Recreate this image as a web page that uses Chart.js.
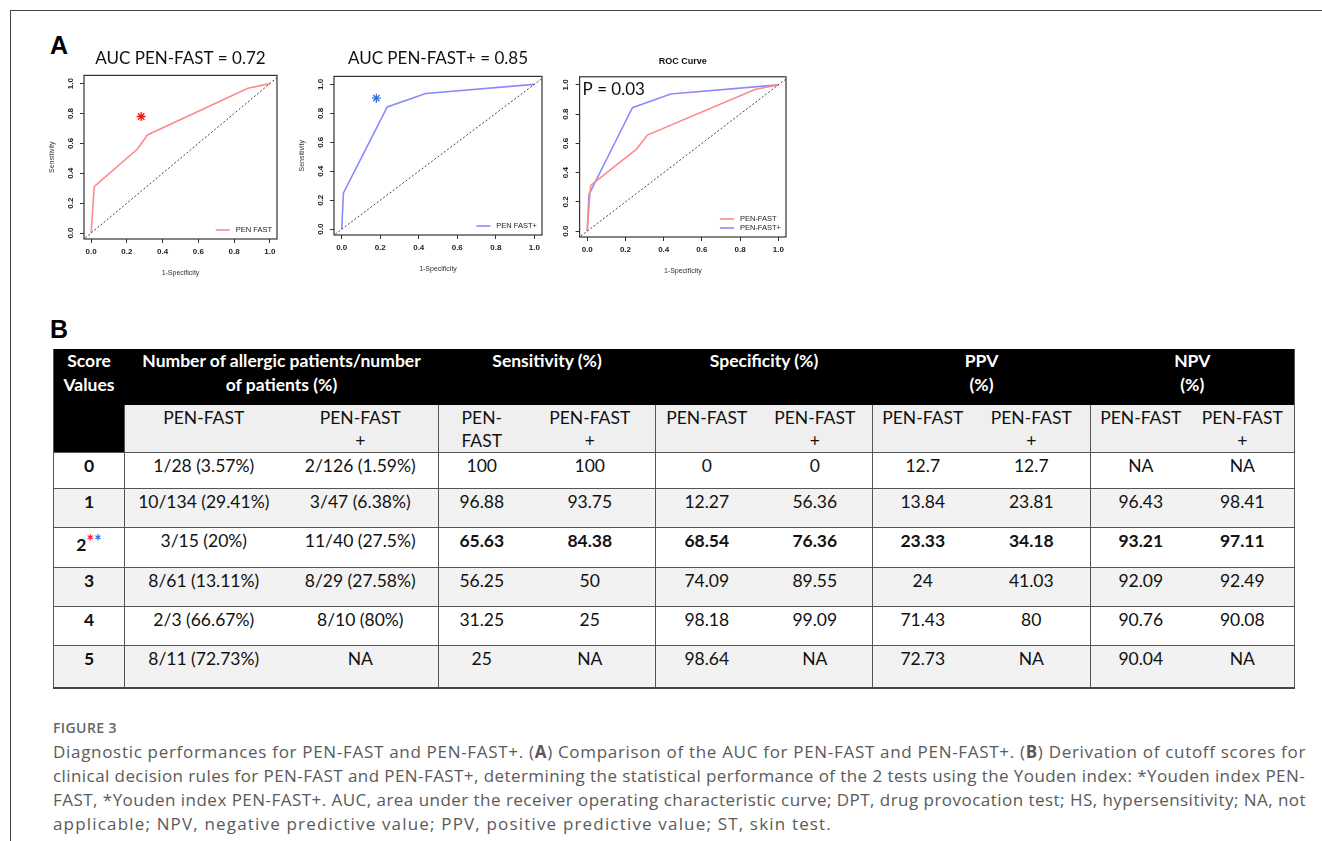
<!DOCTYPE html>
<html>
<head>
<meta charset="utf-8">
<script src="https://cdn.jsdelivr.net/npm/chart.js@4.4.1/dist/chart.umd.min.js"></script>
<style>
  body { margin: 0; background: #fff; }
  #page { position: relative; width: 1322px; height: 841px; overflow: hidden; background: #fff; font-family: Lato, sans-serif; }
  #frame { position: absolute; left: 10px; top: 10px; width: 1330px; height: 850px; border-top: 1.5px solid #444; border-left: 1.5px solid #444; }
  .panel { position: absolute; font-family: "Liberation Sans", Arial, sans-serif; font-weight: 900; font-size: 25px; color: #000; line-height: 25px; }
  canvas { position: absolute; }
  #tbl { position: absolute; left: 53px; top: 349px; width: 1241px; border-collapse: collapse; table-layout: fixed; font-family: Lato, sans-serif; font-size: 17.5px; color: #111; }
  #tbl th, #tbl td { padding: 0; text-align: center; vertical-align: top; }
  #tbl th { background: #000; color: #fff; font-weight: bold; font-size: 17.5px; line-height: 24px; }
  #tbl tr.head { height: 56px; }
  #tbl tr.sub { height: 47px; }
  #tbl tr.sub td { background: #efefef; line-height: 23px; padding-top: 1px; }
  #tbl tr.data td { border-top: 1.5px solid #555; line-height: 20px; padding-top: 3px; }
  #tbl tr.data.alt td { background: #f2f2f2; }
  #tbl td.g { border-left: 1.5px solid #555; }
  #tbl td.score { font-weight: bold; }
  #tbl td.b { font-weight: bold; }
  #tbl { border-left: 1.5px solid #555; border-right: 1.5px solid #555; border-bottom: 2px solid #444; }
  .star { font-size: 18px; vertical-align: 3px; font-weight: bold; }
  #figlabel { position: absolute; left: 53px; top: 718px; font-family: "Open Sans", sans-serif; font-size: 14px; font-weight: 600; color: #666; letter-spacing: 0.4px; }
  #caption { position: absolute; left: 53px; top: 740px; width: 1253px; font-family: "Open Sans", sans-serif; font-size: 17px; line-height: 24px; color: #5a5a5a; }
  #caption .ln { display: block; }
  #caption .ln span { display: inline-block; white-space: nowrap; }
</style>
</head>
<body>
<div id="page">
  <div id="frame"></div>
  <div class="panel" style="left:50px; top:33px;">A</div>
  <div class="panel" style="left:50px; top:317px;">B</div>

  <canvas id="rocPenFast" width="245" height="250" style="left:40px; top:42px;"></canvas>
  <canvas id="rocPenFastPlus" width="265" height="250" style="left:285px; top:42px;"></canvas>
  <canvas id="rocBoth" width="250" height="250" style="left:545px; top:42px;"></canvas>

  <table id="tbl">
    <colgroup>
      <col style="width:71px"><col style="width:158px"><col style="width:156px">
      <col style="width:86px"><col style="width:131px"><col style="width:102px">
      <col style="width:115px"><col style="width:100px"><col style="width:118px">
      <col style="width:100px"><col style="width:104px">
    </colgroup>
    <tbody id="tbody"></tbody>
  </table>

  <div id="figlabel">FIGURE 3</div>
  <div id="caption">
    <div class="ln" data-w="1253"><span>Diagnostic performances for PEN-FAST and PEN-FAST+. (<b>A</b>) Comparison of the AUC for PEN-FAST and PEN-FAST+. (<b>B</b>) Derivation of cutoff scores for</span></div>
    <div class="ln" data-w="1252"><span>clinical decision rules for PEN-FAST and PEN-FAST+, determining the statistical performance of the 2 tests using the Youden index: *Youden index PEN-</span></div>
    <div class="ln" data-w="1253"><span>FAST, *Youden index PEN-FAST+. AUC, area under the receiver operating characteristic curve; DPT, drug provocation test; HS, hypersensitivity; NA, not</span></div>
    <div class="ln" data-w="779"><span>applicable; NPV, negative predictive value; PPV, positive predictive value; ST, skin test.</span></div>
  </div>
</div>

<script>
// ROC curve points (1 - specificity, sensitivity)
const penFastFpr = [0, 0.0136, 0.0182, 0.2591, 0.3146, 0.8773, 1];
const penFastTpr = [0, 0.25, 0.3125, 0.5625, 0.6563, 0.9688, 1];
const penFastPlusFpr = [0, 0.0091, 0.1045, 0.2364, 0.4364, 1];
const penFastPlusTpr = [0, 0.25, 0.5, 0.8438, 0.9375, 1];
// Youden index markers
const youdenPenFast = [0.28, 0.78];
const youdenPenFastPlus = [0.18, 0.905];
// chance line
const chanceLine = [-0.05, 1.05];
const axisTicks = [0, 0.2, 0.4, 0.6, 0.8, 1.0];

// table values (panel B)
const scores = ['0', '1', '2', '3', '4', '5'];
const allergicPenFast = ['1/28 (3.57%)', '10/134 (29.41%)', '3/15 (20%)', '8/61 (13.11%)', '2/3 (66.67%)', '8/11 (72.73%)'];
const allergicPenFastPlus = ['2/126 (1.59%)', '3/47 (6.38%)', '11/40 (27.5%)', '8/29 (27.58%)', '8/10 (80%)', 'NA'];
const sensPenFast = ['100', '96.88', '65.63', '56.25', '31.25', '25'];
const sensPenFastPlus = ['100', '93.75', '84.38', '50', '25', 'NA'];
const specPenFast = ['0', '12.27', '68.54', '74.09', '98.18', '98.64'];
const specPenFastPlus = ['0', '56.36', '76.36', '89.55', '99.09', 'NA'];
const ppvPenFast = ['12.7', '13.84', '23.33', '24', '71.43', '72.73'];
const ppvPenFastPlus = ['12.7', '23.81', '34.18', '41.03', '80', 'NA'];
const npvPenFast = ['NA', '96.43', '93.21', '92.09', '90.76', '90.04'];
const npvPenFastPlus = ['NA', '98.41', '97.11', '92.49', '90.08', 'NA'];
const boldRow = 2;

const RED = '#ff8a8a';
const BLUE = '#8a8aff';

const pts = (xs, ys) => xs.map((x, i) => ({ x: x, y: ys[i] }));

function rocLine(label, xs, ys, color) {
    return { label: label, data: pts(xs, ys), borderColor: color, borderWidth: 1.6,
        pointRadius: 0, tension: 0, fill: false };
}
function chance() {
    return { label: 'chance', data: pts(chanceLine, chanceLine), borderColor: '#444',
        borderWidth: 1, borderDash: [2, 2], pointRadius: 0, fill: false };
}
function youden(point, color) {
    return { type: 'scatter', label: 'youden', data: [{ x: point[0], y: point[1] }],
        pointStyle: 'star', pointRadius: 4.5, borderColor: color, borderWidth: 1.3, showLine: false };
}

// full box around the plot region, like base R
const boxPlugin = {
    id: 'box',
    afterDatasetsDraw(chart) {
        const a = chart.chartArea, ctx = chart.ctx;
        ctx.save();
        ctx.strokeStyle = '#333';
        ctx.lineWidth = 1.2;
        ctx.strokeRect(a.left, a.top, a.right - a.left, a.bottom - a.top);
        ctx.restore();
    }
};

// legend drawn inside the plot, bottom-right
const insideLegend = {
    id: 'insideLegend',
    afterDraw(chart, args, opts) {
        if (!opts.items) return;
        const a = chart.chartArea, ctx = chart.ctx;
        ctx.save();
        ctx.font = '7.5px "Liberation Sans", Arial, sans-serif';
        ctx.textBaseline = 'middle';
        const w = Math.max(...opts.items.map(it => ctx.measureText(it.label).width));
        const right = a.right - 5;
        const textX = right - w;
        let y = a.bottom - 9 - (opts.items.length - 1) * 9;
        opts.items.forEach(it => {
            ctx.strokeStyle = it.color;
            ctx.lineWidth = 1.6;
            ctx.beginPath();
            ctx.moveTo(textX - 20, y);
            ctx.lineTo(textX - 6, y);
            ctx.stroke();
            ctx.fillStyle = '#222';
            ctx.fillText(it.label, textX, y);
            y += 9;
        });
        ctx.restore();
    }
};

// free text in the top-left corner of the plot
const cornerText = {
    id: 'cornerText',
    afterDraw(chart, args, opts) {
        if (!opts.text) return;
        const a = chart.chartArea, ctx = chart.ctx;
        ctx.save();
        ctx.font = '17px Lato, sans-serif';
        ctx.fillStyle = '#111';
        ctx.textBaseline = 'top';
        ctx.fillText(opts.text, a.left + 3, a.top + 4);
        ctx.restore();
    }
};

const tickFont = { family: '"Liberation Sans", Arial, sans-serif', size: 8, weight: 'bold' };
const axisTitleFont = { family: '"Liberation Sans", Arial, sans-serif', size: 7 };

function rocChart(id, cfg) {
    return new Chart(document.getElementById(id), {
        type: 'line',
        data: { datasets: cfg.datasets },
        options: {
            responsive: false,
            animation: false,
            layout: { padding: cfg.padding },
            plugins: {
                legend: { display: false },
                tooltip: { enabled: false },
                title: { display: true, fullSize: false, text: cfg.title, font: cfg.titleFont, color: '#111', padding: cfg.titlePad },
                insideLegend: { items: cfg.legend },
                cornerText: { text: cfg.corner }
            },
            scales: {
                x: {
                    type: 'linear', min: -0.04, max: 1.04,
                    afterBuildTicks: s => { s.ticks = axisTicks.map(v => ({ value: v })); },
                    grid: { drawOnChartArea: false, drawTicks: true, tickLength: 4, color: '#333' },
                    border: { display: false },
                    ticks: { font: tickFont, color: '#222', padding: 4, maxRotation: 0, autoSkip: false,
                        callback: v => v.toFixed(1) },
                    title: { display: true, text: '1-Specificity', font: axisTitleFont, color: '#333',
                        padding: { top: 8, bottom: 0 } }
                },
                y: {
                    type: 'linear', min: -0.04, max: 1.055,
                    afterBuildTicks: s => { s.ticks = axisTicks.map(v => ({ value: v })); },
                    grid: { drawOnChartArea: false, drawTicks: true, tickLength: 4, color: '#333' },
                    border: { display: false },
                    ticks: { font: tickFont, color: '#222', padding: 4, minRotation: 90, maxRotation: 90,
                        crossAlign: 'center', autoSkip: false, callback: v => v.toFixed(1) },
                    title: { display: cfg.yTitle, text: 'Sensitivity', font: axisTitleFont, color: '#333',
                        padding: { top: 4, bottom: 6 } }
                }
            }
        },
        plugins: [boxPlugin, insideLegend, cornerText]
    });
}

const bigTitle = { family: 'Lato, sans-serif', size: 17, weight: 'normal' };

rocChart('rocPenFast', {
    title: 'AUC PEN-FAST = 0.72', titleFont: bigTitle, titlePad: { top: 6, bottom: 7 },
    padding: { left: 4, right: 8, top: 0, bottom: 15 }, yTitle: true,
    datasets: [chance(), rocLine('PEN FAST', penFastFpr, penFastTpr, RED), youden(youdenPenFast, '#ff1010')],
    legend: [{ label: 'PEN FAST', color: RED }]
});

rocChart('rocPenFastPlus', {
    title: 'AUC PEN-FAST+ = 0.85', titleFont: bigTitle, titlePad: { top: 6, bottom: 8 },
    padding: { left: 9, right: 8, top: 0, bottom: 19 }, yTitle: true,
    datasets: [chance(), rocLine('PEN FAST+', penFastPlusFpr, penFastPlusTpr, BLUE), youden(youdenPenFastPlus, '#3a6fd8')],
    legend: [{ label: 'PEN FAST+', color: BLUE }]
});

rocChart('rocBoth', {
    title: 'ROC Curve', titleFont: { family: '"Liberation Sans", Arial, sans-serif', size: 9, weight: 'bold' },
    titlePad: { top: 14, bottom: 10 },
    padding: { left: 13, right: 9, top: 0, bottom: 17 }, yTitle: false,
    datasets: [chance(), rocLine('PEN-FAST', penFastFpr, penFastTpr, RED), rocLine('PEN-FAST+', penFastPlusFpr, penFastPlusTpr, BLUE)],
    legend: [{ label: 'PEN-FAST', color: RED }, { label: 'PEN-FAST+', color: BLUE }],
    corner: 'P = 0.03'
});

// table
const tbody = document.getElementById('tbody');
let html = '';
html += '<tr class="head">' +
    '<th rowspan="2">Score<br>Values</th>' +
    '<th colspan="2">Number of allergic patients/number<br>of patients (%)</th>' +
    '<th colspan="2">Sensitivity (%)</th>' +
    '<th colspan="2">Specificity (%)</th>' +
    '<th colspan="2">PPV<br>(%)</th>' +
    '<th colspan="2">NPV<br>(%)</th></tr>';
html += '<tr class="sub">' +
    '<td class="g">PEN-FAST</td><td>PEN-FAST<br>+</td>' +
    '<td class="g">PEN-<br>FAST</td><td>PEN-FAST<br>+</td>' +
    '<td class="g">PEN-FAST</td><td>PEN-FAST<br>+</td>' +
    '<td class="g">PEN-FAST</td><td>PEN-FAST<br>+</td>' +
    '<td class="g">PEN-FAST</td><td>PEN-FAST<br>+</td></tr>';
const rowHeights = [36, 39, 40, 39, 39, 42];
scores.forEach((s, i) => {
    const b = i === boldRow ? ' b' : '';
    let scoreCell = s;
    if (i === boldRow) scoreCell += '<span class="star" style="color:#ff1a1a">*</span><span class="star" style="color:#3a6fd8">*</span>';
    html += '<tr class="data' + (i % 2 ? ' alt' : '') + '" style="height:' + rowHeights[i] + 'px">' +
        '<td class="score">' + scoreCell + '</td>' +
        '<td class="g">' + allergicPenFast[i] + '</td><td>' + allergicPenFastPlus[i] + '</td>' +
        '<td class="g' + b + '">' + sensPenFast[i] + '</td><td class="' + b + '">' + sensPenFastPlus[i] + '</td>' +
        '<td class="g' + b + '">' + specPenFast[i] + '</td><td class="' + b + '">' + specPenFastPlus[i] + '</td>' +
        '<td class="g' + b + '">' + ppvPenFast[i] + '</td><td class="' + b + '">' + ppvPenFastPlus[i] + '</td>' +
        '<td class="g' + b + '">' + npvPenFast[i] + '</td><td class="' + b + '">' + npvPenFastPlus[i] + '</td></tr>';
});
tbody.innerHTML = html;

// stretch each caption line to the width it has in the figure
document.querySelectorAll('#caption .ln').forEach(ln => {
    const span = ln.firstElementChild;
    const target = parseFloat(ln.dataset.w);
    const n = span.textContent.length;
    const w = span.getBoundingClientRect().width;
    span.style.letterSpacing = ((target - w) / n).toFixed(3) + 'px';
});
</script>
</body>
</html>
